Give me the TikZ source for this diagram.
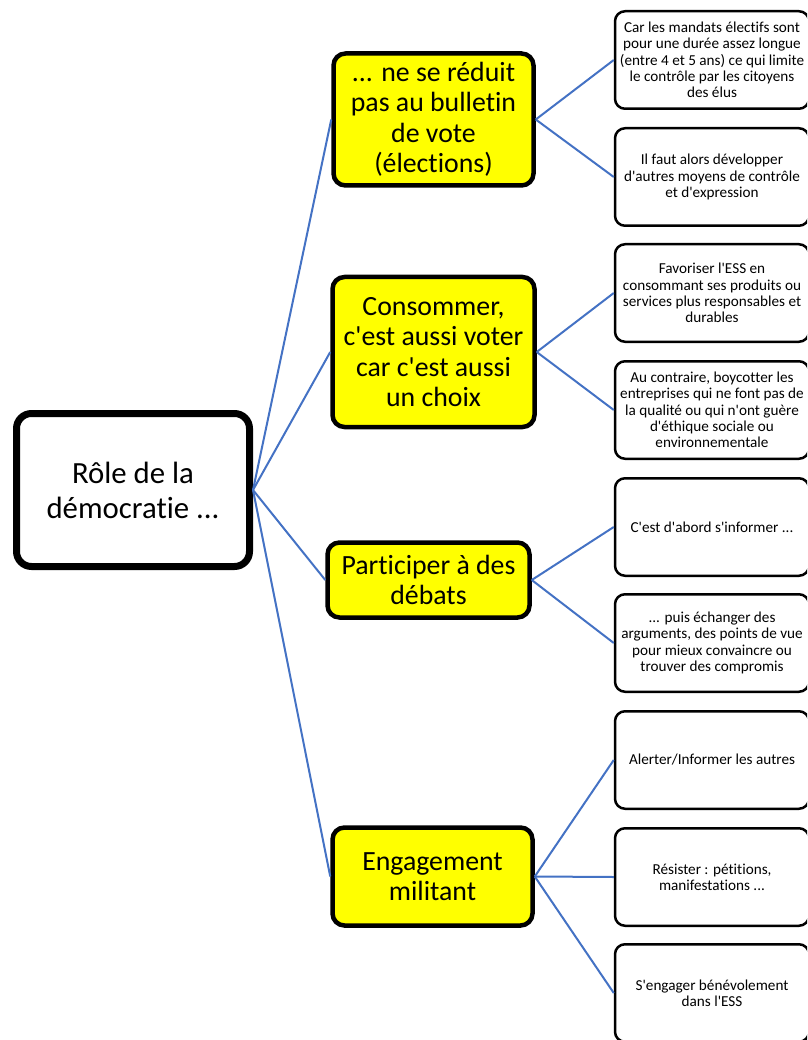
\documentclass[tikz,border=0pt]{standalone}
\usepackage{fontspec}
\newfontfamily\carl[RawFeature={-liga;-clig;-dlig}]{Carlito}
\definecolor{linkblue}{HTML}{4472C4}
\definecolor{boxyellow}{HTML}{FFFF00}
\tikzset{
  rootbox/.style={draw=black, line width=7pt, rounded corners=15pt, fill=white,
    align=center, inner sep=0pt, font=\carl\fontsize{30.8}{35}\selectfont},
  ybox/.style={draw=black, line width=4.5pt, rounded corners=12pt, fill=boxyellow,
    align=center, inner sep=0pt, font=\carl\fontsize{27.8}{30.5}\selectfont},
  rbox/.style={draw=black, line width=2.5pt, rounded corners=10pt, fill=white,
    align=center, inner sep=0pt, minimum width=194pt, minimum height=97.5pt,
    font=\carl\fontsize{15.2}{16.3}\selectfont},
  link/.style={draw=linkblue, line width=2pt}
}
\begin{document}
\begin{tikzpicture}[x=1pt,y=-1pt]
\useasboundingbox (0,0) rectangle (807,1040);
\clip (0,0) rectangle (807,1040);

\node[rootbox, minimum width=233pt, minimum height=153pt] (root) at (133,490) {Rôle de la\\démocratie ...};

\node[ybox, minimum width=200pt, minimum height=132pt] (y1) at (433.5,119.5) {... ne se réduit\\pas au bulletin\\de vote\\(élections)};
\node[ybox, minimum width=202pt, minimum height=150pt] (y2) at (433.5,352) {Consommer,\\c'est aussi voter\\car c'est aussi\\un choix};
\node[ybox, minimum width=202pt, minimum height=75pt] (y3) at (428.5,580) {Participer à des\\débats};
\node[ybox, minimum width=200pt, minimum height=98pt] (y4) at (432.5,876.5) {Engagement\\militant};

\node[rbox] (r1) at (712,60) {Car les mandats électifs sont\\pour une durée assez longue\\(entre 4 et 5 ans) ce qui limite\\le contrôle par les citoyens\\des élus};
\node[rbox] (r2) at (712,177) {Il faut alors développer\\d'autres moyens de contrôle\\et d'expression};
\node[rbox] (r3) at (712,293) {Favoriser l'ESS en\\consommant ses produits ou\\services plus responsables et\\durables};
\node[rbox] (r4) at (712,410) {Au contraire, boycotter les\\entreprises qui ne font pas de\\la qualité ou qui n'ont guère\\d'éthique sociale ou\\environnementale};
\node[rbox] (r5) at (712,527) {C'est d'abord s'informer ...};
\node[rbox] (r6) at (712,643) {... puis échanger des\\arguments, des points de vue\\pour mieux convaincre ou\\trouver des compromis};
\node[rbox] (r7) at (712,760) {Alerter/Informer les autres};
\node[rbox] (r8) at (712,877) {Résister : pétitions,\\manifestations ...};
\node[rbox] (r9) at (712,993) {S'engager bénévolement\\dans l'ESS};

\foreach \y in {y1,y2,y3,y4} {\draw[link] (root.east) -- (\y.west);}
\draw[link] (y1.east) -- (r1.west);
\draw[link] (y1.east) -- (r2.west);
\draw[link] (y2.east) -- (r3.west);
\draw[link] (y2.east) -- (r4.west);
\draw[link] (y3.east) -- (r5.west);
\draw[link] (y3.east) -- (r6.west);
\draw[link] (y4.east) -- (r7.west);
\draw[link] (y4.east) -- (r8.west);
\draw[link] (y4.east) -- (r9.west);
\end{tikzpicture}
\end{document}
